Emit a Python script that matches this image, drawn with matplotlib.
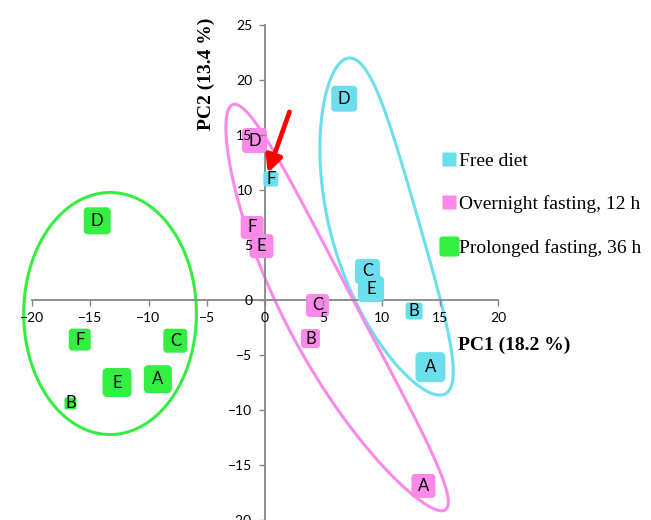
import numpy as np
import matplotlib
matplotlib.use("Agg")
import matplotlib.pyplot as plt
from matplotlib.path import Path
from matplotlib.patches import Polygon
from matplotlib.lines import Line2D

# ---------- data ----------
labels_free = ["A", "B", "C", "D", "E", "F"]
pc1_free = [14.2, 12.8, 8.8, 6.8, 9.1, 0.5]
pc2_free = [-6.1, -1.0, 2.6, 18.3, 1.0, 11.0]
size_free = [30, 17, 25, 26, 26, 15]          # marker side, px

labels_night = ["A", "B", "C", "D", "E", "F"]
pc1_night = [13.6, 3.9, 4.5, -0.9, -0.3, -1.1]
pc2_night = [-16.9, -3.5, -0.5, 14.5, 4.9, 6.6]
size_night = [24, 19, 23, 25, 24, 23]

labels_long = ["A", "B", "C", "D", "E", "F"]
pc1_long = [-9.2, -16.7, -7.7, -14.4, -12.7, -15.9]
pc2_long = [-7.2, -9.4, -3.7, 7.2, -7.5, -3.6]
size_long = [28, 12, 24, 27, 29, 22]

group_names = ["Free diet", "Overnight fasting, 12 h", "Prolonged fasting, 36 h"]
group_colors = ["#6BE0EC", "#FA89EA", "#35EE42"]

x_ticks = list(range(-20, 21, 5))
y_ticks = list(range(-20, 26, 5))

# group outlines: center (data), half length, half width, tilt (deg), bend
outline_center = [(11.16, 6.68), (6.31, -0.68), (-13.3, -1.23)]
outline_half_len = [15.9, 20.8, 11.0]
outline_half_wid = [4.0, 3.2, 7.85]
outline_tilt = [16.0, 27.7, 0.0]
outline_bend = [-1.8, -1.7, 0.0]

DPI = 100
K = 11.65 / 11.0  # x px-per-unit / y px-per-unit


def rounded_square(r=0.3, n=10):
    verts = []
    for cx, cy, a0 in [(1 - r, 1 - r, 0), (r - 1, 1 - r, 90),
                       (r - 1, r - 1, 180), (1 - r, r - 1, 270)]:
        t = np.radians(np.linspace(a0, a0 + 90, n))
        verts += list(zip(cx + r * np.cos(t), cy + r * np.sin(t)))
    verts.append(verts[0])
    return Path(verts, closed=True)


RSQ = rounded_square()


def outline(center, a, b, tilt, bend):
    t = np.linspace(0, 2 * np.pi, 300)
    u = a * np.cos(t)
    v = b * np.sin(t) + bend * (1 - (u / a) ** 2)
    th = np.radians(tilt)
    e1 = np.array([-np.sin(th), np.cos(th)])
    e2 = np.array([np.cos(th), np.sin(th)])
    xs = center[0] + (u * e1[0] + v * e2[0]) / K
    ys = center[1] + (u * e1[1] + v * e2[1])
    return np.column_stack([xs, ys])


plt.rcParams["font.family"] = ["Lato", "DejaVu Sans"]
fig = plt.figure(figsize=(6.51, 5.2), dpi=DPI)
ax = fig.add_axes([32 / 651, 0.0, (498 - 32) / 651, 495 / 520])
ax.set_xlim(-20, 20)
ax.set_ylim(-20, 25)

# axes through origin
for s in ["top", "right"]:
    ax.spines[s].set_visible(False)
for s in ["left", "bottom"]:
    ax.spines[s].set_position(("data", 0))
    ax.spines[s].set_color("#868686")
    ax.spines[s].set_linewidth(1.3)
ax.set_xticks(x_ticks)
ax.set_yticks(y_ticks)
ax.tick_params(direction="out", length=4, width=1, color="#868686",
               labelsize=10, pad=5)
ax.xaxis.set_zorder(3.5)
ax.yaxis.set_zorder(3.5)
ax.patch.set_visible(False)

# outlines
for i in range(3):
    pts = outline(outline_center[i], outline_half_len[i], outline_half_wid[i],
                  outline_tilt[i], outline_bend[i])
    ax.add_patch(Polygon(pts, closed=True, fill=False, edgecolor=group_colors[i],
                         lw=2.2, zorder=2, clip_on=False))

# points
groups = [(pc1_free, pc2_free, size_free, labels_free),
          (pc1_night, pc2_night, size_night, labels_night),
          (pc1_long, pc2_long, size_long, labels_long)]
for (xs, ys, sz, lab), col in zip(groups, group_colors):
    s = [(L / (DPI / 72)) ** 2 for L in sz]
    ax.scatter(xs, ys, s=s, marker=RSQ, color=col, edgecolors="none", zorder=3)
    for x, y, t in zip(xs, ys, lab):
        ax.text(x, y, t, ha="center", va="center", fontsize=12, zorder=4)

# arrow to the free-diet F point
ax.annotate("", xy=(pc1_free[5] - 0.25, pc2_free[5] + 0.55), xytext=(2.1, 17.1),
            arrowprops=dict(arrowstyle="-|>", color="#FF0000", lw=3.4,
                            mutation_scale=25, shrinkA=0, shrinkB=0), zorder=5)

# axis titles
ax.text(-5.0, 20.6, "PC2 (13.4 %)", rotation=90, ha="center", va="center",
        fontsize=14, fontweight="bold", family="Liberation Serif")
ax.text(16.6, -4.1, "PC1 (18.2 %)", ha="left", va="center",
        fontsize=14, fontweight="bold", family="Liberation Serif")

# legend
handles = [Line2D([], [], ls="none", marker="s", markersize=9.6,
                  markerfacecolor=group_colors[0], markeredgecolor="none"),
           Line2D([], [], ls="none", marker="s", markersize=9.6,
                  markerfacecolor=group_colors[1], markeredgecolor="none"),
           Line2D([], [], ls="none", marker=RSQ, markersize=14.5,
                  markerfacecolor=group_colors[2], markeredgecolor="none")]
fig.legend(handles, group_names, loc="center left",
           bbox_to_anchor=(441 / 651, 1 - 204.5 / 520), frameon=False,
           prop={"family": "Liberation Serif", "size": 14},
           handlelength=0.8, handletextpad=0.15, labelspacing=1.32,
           borderpad=0, borderaxespad=0)

fig.savefig("out.png", dpi=DPI)
